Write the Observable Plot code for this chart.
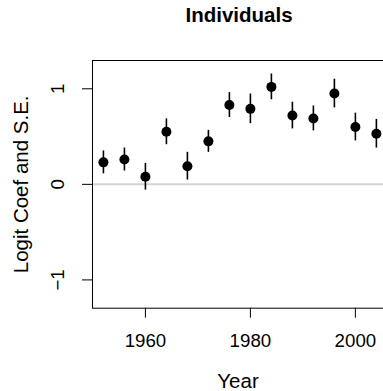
<!DOCTYPE html>
<html>
<head>
<meta charset="utf-8">
<script src="https://cdn.jsdelivr.net/npm/d3@7"></script>
<script src="https://cdn.jsdelivr.net/npm/@observablehq/plot@0.6"></script>
<style>
  html, body { margin: 0; padding: 0; background: white; overflow: hidden; }
  #title { height: 30px; line-height: 30px; font-family: "Liberation Sans", Arial, sans-serif; font-weight: bold; font-size: 20.5px; text-align: center; padding-left: 95px; width: 288px; color: black; }
  #chart svg { overflow: visible; }
</style>
</head>
<body>
<div id="title">Individuals</div>
<div id="chart"></div>
<script>
const years = [1952, 1956, 1960, 1964, 1968, 1972, 1976, 1980, 1984, 1988, 1992, 1996, 2000, 2004];
const coef  = [0.23, 0.26, 0.08, 0.55, 0.19, 0.45, 0.83, 0.79, 1.02, 0.72, 0.69, 0.95, 0.60, 0.53];
const se    = [0.12, 0.12, 0.14, 0.135, 0.145, 0.115, 0.13, 0.155, 0.135, 0.14, 0.13, 0.15, 0.145, 0.15];
const xTicks = [1960, 1980, 2000];
const yTicks = [-1, 0, 1];

const data = years.map((year, i) => ({year, coef: coef[i], se: se[i]}));

const chart = Plot.plot({
  width: 383,
  height: 361,
  marginTop: 30,
  marginBottom: 83.3,
  marginLeft: 92,
  marginRight: 0,
  style: {fontFamily: "Liberation Sans, Arial, sans-serif", fontSize: "18.7px", color: "black", background: "white"},
  x: {domain: [1949.92, 2006.08], range: [92, 386.8]},
  y: {domain: [-1.296, 1.296]},
  marks: [
    Plot.ruleY([0], {stroke: "#d3d3d3", strokeWidth: 2}),
    Plot.ruleX(data, {x: "year", y1: d => d.coef - d.se, y2: d => d.coef + d.se, stroke: "black", strokeWidth: 1.6}),
    Plot.dot(data, {x: "year", y: "coef", r: 5, fill: "black", stroke: "none"}),
    Plot.frame({stroke: "black", strokeWidth: 1}),
    Plot.axisX(xTicks, {tickSize: 10, tickPadding: 16, tickFormat: d3.format("d"), fontSize: 18.7, label: null}),
    Plot.axisX({ticks: [], tickSize: 0, label: "Year", labelAnchor: "center", labelOffset: 80, labelArrow: "none", fontSize: 20.5}),
    Plot.axisY(yTicks, {tickSize: 10, tickPadding: 19, tickRotate: -90, tickFormat: d3.format("d"), fontSize: 18.7, label: null}),
    Plot.axisY({ticks: [], tickSize: 0, label: "Logit Coef and S.E.", labelAnchor: "center", labelOffset: 79, labelArrow: "none", fontSize: 20.5})
  ]
});
document.getElementById("chart").appendChild(chart);
</script>
</body>
</html>
